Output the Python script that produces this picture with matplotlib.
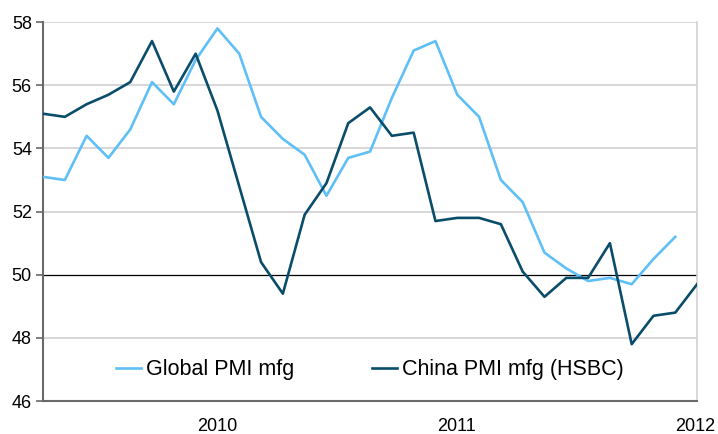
import matplotlib.pyplot as plt
import numpy as np

plt.rcParams['font.family'] = ['Liberation Sans', 'DejaVu Sans']

# monthly readings, index 0 = first month shown
global_pmi = [53.1, 53.0, 54.4, 53.7, 54.6, 56.1, 55.4, 56.8, 57.8, 57.0,
              55.0, 54.3, 53.8, 52.5, 53.7, 53.9, 55.6, 57.1, 57.4, 55.7,
              55.0, 53.0, 52.3, 50.7, 50.2, 49.8, 49.9, 49.7, 50.5, 51.2]
china_pmi = [55.1, 55.0, 55.4, 55.7, 56.1, 57.4, 55.8, 57.0, 55.2, 52.8,
             50.4, 49.4, 51.9, 52.9, 54.8, 55.3, 54.4, 54.5, 51.7, 51.8,
             51.8, 51.6, 50.1, 49.3, 49.9, 49.9, 51.0, 47.8, 48.7, 48.8,
             49.7]
year_labels = ['2010', '2011', '2012']
year_pos = [8, 18.95, 29.9]
y_ticks = [46, 48, 50, 52, 54, 56, 58]

light_blue = '#5fbff7'
dark_blue = '#0a4d6b'

fig = plt.figure(figsize=(7.18, 4.34), dpi=100)
ax = fig.add_axes([0.0599, 0.076, 0.911, 0.873])

for y in y_ticks[1:]:
    if y == 50:
        ax.axhline(y, color='black', lw=0.9, zorder=1)
    else:
        ax.axhline(y, color='#d3d0d3', lw=1.2, zorder=1)

ax.plot(np.arange(len(global_pmi)), global_pmi, color=light_blue, lw=1.9,
        label='Global PMI mfg', zorder=3)
ax.plot(np.arange(len(china_pmi)), china_pmi, color=dark_blue, lw=1.9,
        label='China PMI mfg (HSBC)', zorder=3)

ax.set_xlim(0, 30)
ax.set_ylim(46, 58)
ax.set_yticks(y_ticks)
ax.set_xticks(year_pos)
ax.set_xticklabels(year_labels)
ax.tick_params(axis='y', length=5, width=1.2, color='#6a6a6a', labelsize=13,
               pad=3)
ax.tick_params(axis='x', length=0, labelsize=13, pad=12)

ax.spines['left'].set_color('#6a6a6a')
ax.spines['left'].set_linewidth(1.5)
ax.spines['bottom'].set_color('#6a6a6a')
ax.spines['bottom'].set_linewidth(1.5)
ax.spines['right'].set_color('#d3d0d3')
ax.spines['right'].set_linewidth(1.2)
ax.spines['top'].set_visible(False)

ax.legend(loc='center', bbox_to_anchor=(0.5, 0.082), ncol=2, frameon=False,
          fontsize=15.5, handlelength=1.15, handletextpad=0.25,
          columnspacing=3.6)

plt.savefig('out.png', dpi=100)
plt.close()
